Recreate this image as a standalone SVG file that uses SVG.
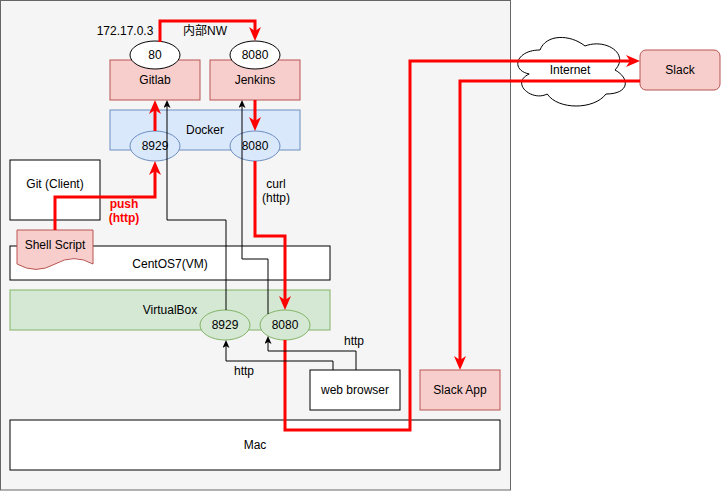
<svg xmlns="http://www.w3.org/2000/svg" width="721" height="491" viewBox="0 0 721 491">
<style>
text{font-family:"Liberation Sans","Noto Sans CJK JP",Arial,sans-serif;font-size:12px;text-anchor:middle;fill:#000}
.red{fill:#f8cecc;stroke:#b85450;stroke-width:1}
.blue{fill:#dae8fc;stroke:#6c8ebf;stroke-width:1}
.green{fill:#d5e8d4;stroke:#82b366;stroke-width:1}
.wht{fill:#fff;stroke:#000;stroke-width:1}
.rl{fill:none;stroke:#ff0000;stroke-width:3;marker-end:url(#ra)}
.bl{fill:none;stroke:#000;stroke-width:1;marker-end:url(#ba)}
.rt{fill:#ff0000;font-weight:bold}
</style>
<defs>
<marker id="ra" viewBox="0 0 14 12" refX="8" refY="6" markerWidth="14" markerHeight="12" markerUnits="userSpaceOnUse" orient="auto">
<path d="M0,0 L14,6 L0,12 L4,6 Z" fill="#ff0000"/>
</marker>
<marker id="ba" viewBox="0 0 8 7" refX="4" refY="3.5" markerWidth="8" markerHeight="7" markerUnits="userSpaceOnUse" orient="auto">
<path d="M0,0 L8,3.5 L0,7 L2,3.5 Z" fill="#000"/>
</marker>
</defs>
<rect x="0.5" y="0.5" width="510" height="489.5" fill="#f5f5f5" stroke="#666666"/>
<g id="gitlab"><rect class="red" x="110" y="60" width="90" height="40"/><text x="155" y="84">Gitlab</text></g>
<g id="jenkins"><rect class="red" x="210" y="60" width="90" height="40"/><text x="255" y="84">Jenkins</text></g>
<g id="port80"><ellipse class="wht" cx="155" cy="55" rx="25" ry="14"/><text x="155" y="59">80</text></g>
<g id="port8080top"><ellipse class="wht" cx="255" cy="55" rx="25" ry="14"/><text x="255" y="59">8080</text></g>
<g id="label-ip"><text x="125" y="35">172.17.0.3</text></g>
<g id="label-nw"><text x="205" y="35">内部NW</text></g>
<g id="docker"><rect class="blue" x="110" y="110" width="190" height="40"/><text x="205" y="134">Docker</text></g>
<g id="docker8929"><ellipse class="blue" cx="155" cy="146" rx="25" ry="15"/><text x="155" y="150">8929</text></g>
<g id="docker8080"><ellipse class="blue" cx="255" cy="146" rx="25" ry="15"/><text x="255" y="150">8080</text></g>
<g id="git"><rect class="wht" x="10" y="160" width="90" height="60"/><text x="55" y="188">Git (Client)</text></g>
<g id="centos"><rect class="wht" x="10" y="246" width="320" height="34"/><text x="170" y="268">CentOS7(VM)</text></g>
<g id="shell"><path class="red" d="M17,230 H93 V264 Q74,253.2 55,264 Q36,274.8 17,264 Z"/><text x="55" y="249">Shell Script</text></g>
<g id="virtualbox"><rect class="green" x="10" y="290" width="320" height="40"/><text x="170" y="314">VirtualBox</text></g>
<g id="vb8929"><ellipse class="green" cx="225" cy="325" rx="25" ry="15"/><text x="225" y="329">8929</text></g>
<g id="vb8080"><ellipse class="green" cx="285" cy="325" rx="25" ry="15"/><text x="285" y="329">8080</text></g>
<g id="browser"><rect class="wht" x="310" y="370" width="90" height="40"/><text x="355" y="394">web browser</text></g>
<g id="mac"><rect class="wht" x="10" y="420" width="490" height="50"/><text x="255" y="449">Mac</text></g>
<g id="slackapp"><rect class="red" x="420" y="370" width="80" height="40"/><text x="460" y="394">Slack App</text></g>
<g id="internet"><path class="wht" d="M540,50 C516,50 510,70 529.2,74 C510,82.8 531.6,102 547.2,94 C558,110 594,110 606,94 C630,94 630,78 615,70 C630,54 606,38 585,46 C570,34 546,34 540,50 Z"/><text x="570" y="74">Internet</text></g>
<g id="slack"><rect class="red" x="640" y="50" width="80" height="40" rx="6"/><text x="680" y="74">Slack</text></g>
<g id="connectors">
<path class="rl" d="M160,42 V21 H255 V35"/>
<path class="rl" d="M255,100 V125"/>
<path class="rl" d="M55,230 V197 H155 V167"/>
<path class="rl" d="M155,131 V106"/>
<path class="rl" d="M255,161 V236 H285 V304"/>
<path class="rl" d="M285,340 V430 H410 V61 H634"/>
<path class="rl" d="M640,81 H460 V364"/>
<path class="bl" d="M226,310 V220 H167 V104"/>
<path class="bl" d="M268,314 V259 H242 V104"/>
<path class="bl" d="M333,370 V361 H226 V344"/>
<path class="bl" d="M356,370 V351 H268 V340"/>
<text class="rt" x="124" y="208">push</text>
<text class="rt" x="124" y="222">(http)</text>
<text x="276" y="188">curl</text>
<text x="276" y="202">(http)</text>
<text x="244" y="375">http</text>
<text x="354" y="345">http</text>
</g>
</svg>
